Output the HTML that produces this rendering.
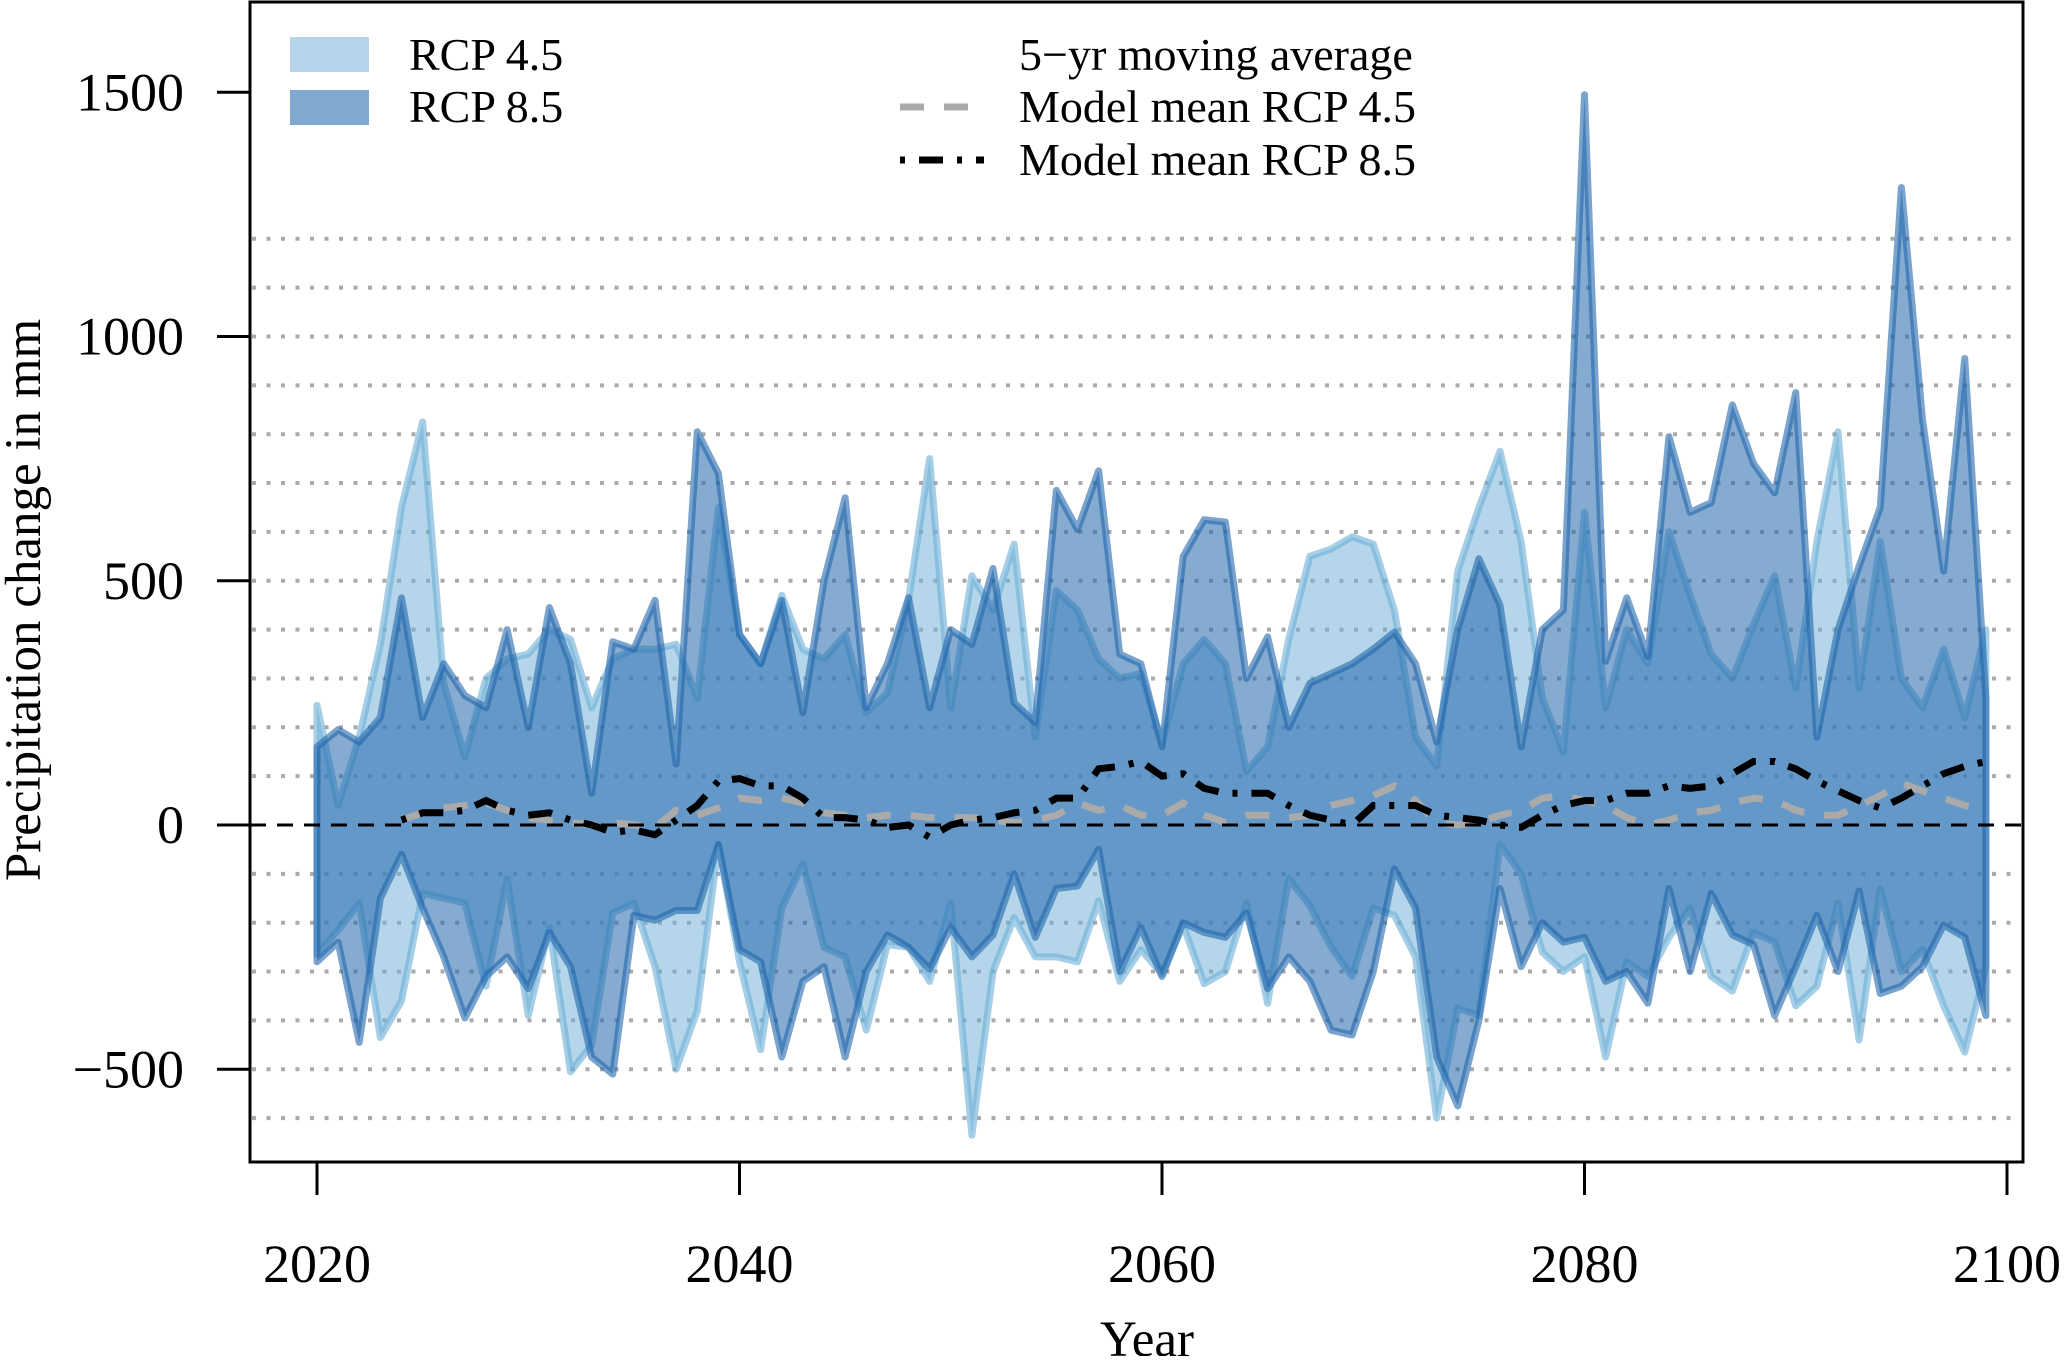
<!DOCTYPE html>
<html><head><meta charset="utf-8"><style>
html,body{margin:0;padding:0;background:#fff}
svg text{font-family:"Liberation Serif",serif;fill:#000}
</style></head><body>
<svg id="chart" width="2067" height="1356" xmlns="http://www.w3.org/2000/svg">
<g id="grid"></g>
<g id="areas"></g>
<g id="means"></g>
<line x1="250" x2="2023" y1="825" y2="825" stroke="#000" stroke-width="3" stroke-dasharray="16,11"/>
<rect x="250" y="2" width="1773" height="1160" fill="none" stroke="#000" stroke-width="3"/>
<g id="axes"></g>
<text transform="translate(40,600) rotate(-90)" text-anchor="middle" font-size="51">Precipitation change in mm</text>
<text x="1147" y="1356" text-anchor="middle" font-size="51">Year</text>
<g>
<rect x="290" y="37" width="79" height="35" fill="rgb(181,214,234)"/>
<text x="409" y="70" font-size="46">RCP 4.5</text>
<rect x="290" y="90" width="79" height="35" fill="rgb(129,168,206)"/>
<text x="409" y="122" font-size="46">RCP 8.5</text>
<text x="1019" y="70" font-size="46">5−yr moving average</text>
<line x1="900" x2="984" y1="107" y2="107" stroke="#aaa" stroke-width="7" stroke-dasharray="24,20"/>
<text x="1019" y="122" font-size="46">Model mean RCP 4.5</text>
<line x1="900" x2="984" y1="160" y2="160" stroke="#000" stroke-width="7" stroke-dasharray="5,14,24,14"/>
<text x="1019" y="175" font-size="46">Model mean RCP 8.5</text>
</g>
</svg>
<script>
const years = Array.from({length:80},(_,i)=>2020+i);
const rcp85Upper = [160,195,170,220,465,220,330,265,240,400,200,445,330,65,375,360,460,125,805,720,390,330,460,230,500,670,240,330,465,240,400,370,525,250,210,685,605,725,350,330,160,550,625,620,300,385,200,290,310,330,360,395,330,170,400,545,450,160,400,440,1495,335,465,345,795,640,660,860,740,680,885,180,400,530,650,1305,830,520,955,260];
const rcp85Lower = [-280,-240,-445,-150,-60,-170,-270,-395,-310,-270,-335,-220,-290,-475,-510,-185,-195,-175,-175,-40,-255,-280,-475,-320,-290,-475,-300,-225,-250,-295,-210,-270,-225,-100,-230,-130,-125,-50,-300,-210,-310,-200,-220,-230,-180,-335,-270,-320,-420,-430,-300,-90,-170,-475,-575,-400,-130,-290,-200,-240,-230,-320,-300,-365,-130,-300,-140,-225,-245,-390,-290,-185,-300,-135,-345,-330,-290,-205,-230,-390];
const rcp45Upper = [245,40,180,370,650,825,290,140,300,340,350,400,380,240,340,360,360,370,260,650,390,330,470,360,340,390,230,270,460,750,240,510,440,575,180,480,440,340,300,310,170,330,380,330,110,160,380,550,565,590,575,440,180,120,520,650,765,580,260,150,640,240,400,330,600,470,350,300,410,510,280,580,805,280,580,300,240,360,220,400];
const rcp45Lower = [-265,-215,-160,-435,-360,-140,-150,-160,-330,-110,-390,-210,-505,-450,-180,-160,-290,-500,-380,-40,-280,-460,-170,-80,-250,-270,-420,-245,-250,-320,-160,-635,-300,-190,-270,-270,-280,-155,-320,-255,-305,-205,-325,-300,-160,-365,-110,-165,-250,-310,-170,-185,-270,-600,-375,-390,-40,-100,-260,-300,-270,-475,-280,-310,-230,-170,-310,-340,-220,-240,-370,-330,-160,-440,-130,-300,-255,-370,-465,-290];
const meanYears = Array.from({length:76},(_,i)=>2024+i);
const mean85 = [10,25,25,30,50,30,20,25,10,0,-15,-10,-20,10,40,90,95,80,80,55,15,15,10,-5,0,-25,0,10,15,25,30,55,55,115,120,130,100,105,75,65,65,65,40,20,10,0,40,40,40,20,15,10,0,-5,20,40,50,50,65,65,80,75,80,105,130,130,115,90,70,50,35,55,80,105,120,130];
const mean45 = [10,25,35,40,45,30,15,10,5,0,5,0,-5,30,20,35,55,50,55,45,25,20,15,20,20,15,15,15,10,5,10,20,45,30,40,20,20,45,20,5,20,20,15,20,40,50,60,80,50,5,0,5,20,30,55,60,50,40,15,0,10,25,30,45,55,50,30,20,20,40,60,85,70,55,40,30];
const xTicks = [2020,2040,2060,2080,2100];
const yTicks = [-500,0,500,1000,1500];
const gridVals = [-600,-500,-400,-300,-200,-100,100,200,300,400,500,600,700,800,900,1000,1100,1200];

const NS='http://www.w3.org/2000/svg';
const X = y => 317 + (y-2020)*21.125;
const Y = v => 825 - v*0.4885;
function mk(tag, attrs, parent){const e=document.createElementNS(NS,tag);for(const k in attrs)e.setAttribute(k,attrs[k]);parent.appendChild(e);return e;}

const grid=document.getElementById('grid');
gridVals.forEach(v=>{
  const l=mk('line',{x1:252,x2:2021,y1:Y(v),y2:Y(v),stroke:'#aaa','stroke-width':4,'stroke-dasharray':'4,10.5'},grid);
  
  
});

const areas=document.getElementById('areas');
function band(up, lo, fill, stroke, name){
  const pts = years.map((y,i)=>X(y)+','+Y(up[i])).concat(years.slice().reverse().map((y,j)=>X(y)+','+Y(lo[lo.length-1-j])));
  const p=mk('polygon',{points:pts.join(' '),fill:fill,stroke:stroke,'stroke-width':7,'stroke-linejoin':'round'},areas);
  
  
}
band(rcp45Upper,rcp45Lower,'rgba(107,174,214,0.5)','rgba(107,174,214,0.6)','rcp45-band');
band(rcp85Upper,rcp85Lower,'rgba(33,102,172,0.55)','rgba(33,102,172,0.6)','rcp85-band');

const means=document.getElementById('means');
function mline(vals, stroke, dash, name){
  const p=mk('polyline',{points:meanYears.map((y,i)=>X(y)+','+Y(vals[i])).join(' '),fill:'none',stroke:stroke,'stroke-width':7,'stroke-dasharray':dash},means);
  
  
}
mline(mean45,'#aaa','24,20','mean-rcp45-line');
mline(mean85,'#000','5,14,24,14','mean-rcp85-line');

const axes=document.getElementById('axes');
xTicks.forEach(t=>{
  const l=mk('line',{x1:X(t),x2:X(t),y1:1162,y2:1195,stroke:'#000','stroke-width':3},axes);
  
  
  const tx=mk('text',{x:X(t),y:1282,'text-anchor':'middle','font-size':54},axes);
  tx.textContent=t;
  
  
});
yTicks.forEach(t=>{
  const l=mk('line',{x1:217,x2:250,y1:Y(t),y2:Y(t),stroke:'#000','stroke-width':3},axes);
  
  
  const tx=mk('text',{x:184,y:Y(t)+18,'text-anchor':'end','font-size':54},axes);
  tx.textContent=t<0?'−'+(-t):String(t);
  
  
});
</script>
</body></html>
